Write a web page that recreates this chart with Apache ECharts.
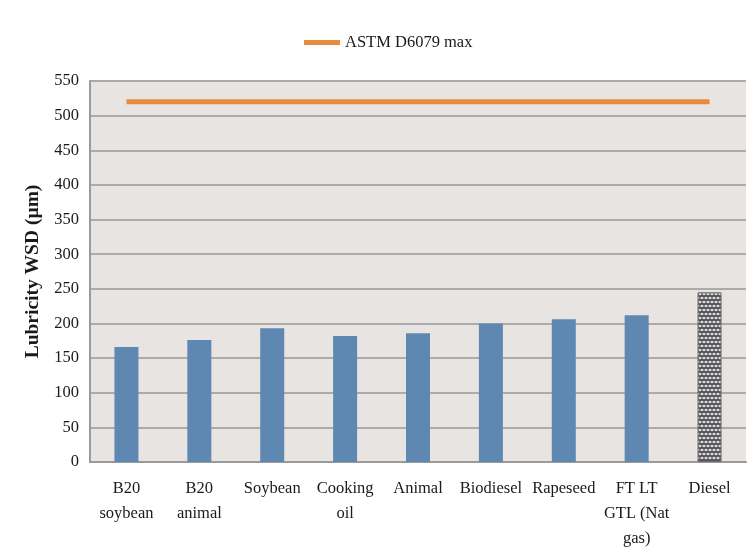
<!DOCTYPE html>
<html>
<head>
<meta charset="utf-8">
<script src="https://cdn.jsdelivr.net/npm/echarts@6/dist/echarts.min.js"></script>
<style>
  html, body { margin: 0; padding: 0; background: #ffffff; }
  #chart { width: 753px; height: 558px; }
</style>
</head>
<body>
<div id="chart"></div>
<script>
// Fuel samples and their lubricity wear-scar diameters (µm)
const categories = ['B20\nsoybean', 'B20\nanimal', 'Soybean', 'Cooking\noil', 'Animal', 'Biodiesel', 'Rapeseed', 'FT LT\nGTL (Nat\ngas)', 'Diesel'];
const wsdValues = [166, 176, 193, 182, 186, 200, 206, 212, 245];
const astmLimit = [520, 520, 520, 520, 520, 520, 520, 520, 520];
const yTicks = { min: 0, max: 550, interval: 50 };

// Dotted fill used for the petroleum diesel bar
function dotPattern() {
  const c = document.createElement('canvas');
  c.width = 8; c.height = 8;
  const g = c.getContext('2d');
  g.fillStyle = '#4f4f52';
  g.fillRect(0, 0, 8, 8);
  g.fillStyle = '#dcdce0';
  const dots = [[2, 2], [6, 2], [0, 6], [4, 6], [8, 6]];
  dots.forEach(([x, y]) => {
    g.beginPath();
    g.ellipse(x, y, 1.6, 1.2, 0, 0, Math.PI * 2);
    g.fill();
  });
  return c;
}

const barData = wsdValues.map((v, i) => {
  if (categories[i] === 'Diesel') {
    return { value: v, itemStyle: { color: { image: dotPattern(), repeat: 'repeat' }, borderColor: '#6a6a6e', borderWidth: 1 } };
  }
  return v;
});

const chart = echarts.init(document.getElementById('chart'), null, { renderer: 'canvas' });
const serif = 'Liberation Serif, Times New Roman, serif';

chart.setOption({
  backgroundColor: '#ffffff',
  animation: false,
  textStyle: { fontFamily: serif },
  legend: {
    data: ['ASTM D6079 max'],
    top: 29,
    left: 299,
    itemWidth: 36,
    itemHeight: 5,
    itemGap: 3,
    icon: 'rect',
    textStyle: { fontFamily: serif, fontSize: 16.5, color: '#1a1a1a' }
  },
  grid: {
    left: 90, right: 7, top: 81, bottom: 96,
    show: true,
    backgroundColor: '#e8e4e1',
    borderWidth: 0
  },
  xAxis: {
    type: 'category',
    data: categories,
    boundaryGap: true,
    axisLine: { show: true, lineStyle: { color: '#9a9a9a', width: 2 } },
    axisTick: { show: false },
    axisLabel: {
      interval: 0,
      fontFamily: serif,
      fontSize: 16.5,
      color: '#1a1a1a',
      lineHeight: 25,
      margin: 14
    }
  },
  yAxis: {
    type: 'value',
    min: yTicks.min,
    max: yTicks.max,
    interval: yTicks.interval,
    name: 'Lubricity WSD (µm)',
    nameLocation: 'middle',
    nameGap: 42,
    nameRotate: 90,
    nameTextStyle: { fontFamily: serif, fontSize: 19.5, fontWeight: 'bold', color: '#1a1a1a' },
    axisLine: { show: true, lineStyle: { color: '#9a9a9a', width: 2 } },
    axisTick: { show: false },
    axisLabel: { fontFamily: serif, fontSize: 16.5, color: '#1a1a1a', margin: 11 },
    splitLine: { show: true, lineStyle: { color: '#aeaaa8', width: 2 } }
  },
  series: [
    {
      name: 'Lubricity',
      type: 'bar',
      data: barData,
      barWidth: 24,
      itemStyle: { color: '#5e87b2' }
    },
    {
      name: 'ASTM D6079 max',
      type: 'line',
      data: astmLimit,
      symbol: 'none',
      lineStyle: { color: '#e98a3c', width: 5 },
      itemStyle: { color: '#e98a3c' },
      z: 5
    }
  ]
});
</script>
</body>
</html>
